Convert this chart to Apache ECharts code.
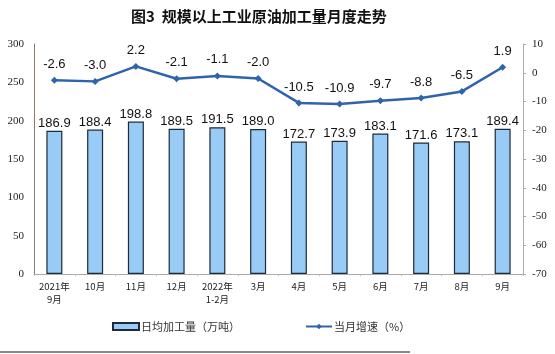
<!DOCTYPE html>
<html>
<head>
<meta charset="utf-8">
<script src="https://cdn.jsdelivr.net/npm/echarts@6/dist/echarts.min.js"></script>
<style>
  html, body { margin: 0; padding: 0; background: #fff; }
  #chart { width: 555px; height: 354px; }
</style>
</head>
<body>
<div id="chart"></div>
<script>
const months = ['2021年\n9月', '10月', '11月', '12月', '2022年\n1-2月', '3月', '4月', '5月', '6月', '7月', '8月', '9月']
const dailyOutput = [186.9, 188.4, 198.8, 189.5, 191.5, 189.0, 172.7, 173.9, 183.1, 171.6, 173.1, 189.4]
const growthRate = [-2.6, -3.0, 2.2, -2.1, -1.1, -2.0, -10.5, -10.9, -9.7, -8.8, -6.5, 1.9]

const chart = echarts.init(document.getElementById('chart'))

const labelFont = 'Liberation Sans, Arial, sans-serif'
const tickFont = 'Liberation Serif, Times New Roman, serif'
const cjkFont = 'Noto Sans CJK SC, sans-serif'

chart.setOption({
  animation: false,
  title: {
    text: '图3  规模以上工业原油加工量月度走势',
    left: 126,
    top: 4,
    textStyle: { fontSize: 15, fontWeight: 'bold', color: '#111', fontFamily: cjkFont }
  },
  legend: [
    {
      data: [{ name: '日均加工量（万吨）', icon: 'rect' }],
      left: 107, top: 316,
      itemWidth: 26, itemHeight: 7, itemGap: 2,
      textStyle: { fontSize: 11, color: '#333', fontFamily: cjkFont, padding: [0, 0, 0, -3] }
    },
    {
      data: ['当月增速（%）'],
      left: 300, top: 316,
      itemWidth: 26, itemHeight: 7,
      textStyle: { fontSize: 11, color: '#333', fontFamily: cjkFont, padding: [0, 0, 0, -3] }
    }
  ],
  grid: { left: 34, right: 32, top: 44, bottom: 80 },
  xAxis: {
    type: 'category',
    data: months,
    axisLine: { lineStyle: { color: '#aaa' } },
    axisTick: { show: true, length: 2, lineStyle: { color: '#bbb' } },
    axisLabel: { interval: 0, fontSize: 9.5, color: '#222', fontFamily: cjkFont, lineHeight: 13, margin: 6 }
  },
  yAxis: [
    {
      type: 'value',
      min: 0, max: 300, interval: 50,
      splitLine: { show: false },
      axisLine: { show: true, lineStyle: { color: '#8c7a6b' } },
      axisTick: { show: false },
      axisLabel: { fontSize: 11, color: '#222', fontFamily: tickFont, margin: 10 }
    },
    {
      type: 'value',
      min: -70, max: 10, interval: 10,
      splitLine: { show: false },
      axisLine: { show: true, lineStyle: { color: '#aaa' } },
      axisTick: { show: true, length: 3, lineStyle: { color: '#aaa' } },
      axisLabel: { fontSize: 11, color: '#222', fontFamily: tickFont, margin: 9 }
    }
  ],
  series: [
    {
      name: '日均加工量（万吨）',
      type: 'bar',
      data: dailyOutput,
      barWidth: 16,
      itemStyle: { color: '#99cbf7', borderColor: '#1c2a3a', borderWidth: 1.2 },
      label: {
        show: true, position: 'top', distance: 1,
        fontSize: 13, color: '#111', fontFamily: labelFont,
        formatter: p => p.value.toFixed(1)
      }
    },
    {
      name: '当月增速（%）',
      type: 'line',
      yAxisIndex: 1,
      data: growthRate,
      symbol: 'diamond',
      symbolSize: 7,
      lineStyle: { color: '#2f64ad', width: 2.5 },
      itemStyle: { color: '#2f64ad' },
      label: {
        show: true, position: 'top', distance: 6,
        fontSize: 13, color: '#111', fontFamily: labelFont,
        formatter: p => p.value.toFixed(1)
      }
    }
  ],
  graphic: [
    { type: 'line', shape: { x1: 0, y1: 352, x2: 410, y2: 352 }, style: { stroke: '#111', lineWidth: 1 } }
  ]
})
</script>
</body>
</html>
